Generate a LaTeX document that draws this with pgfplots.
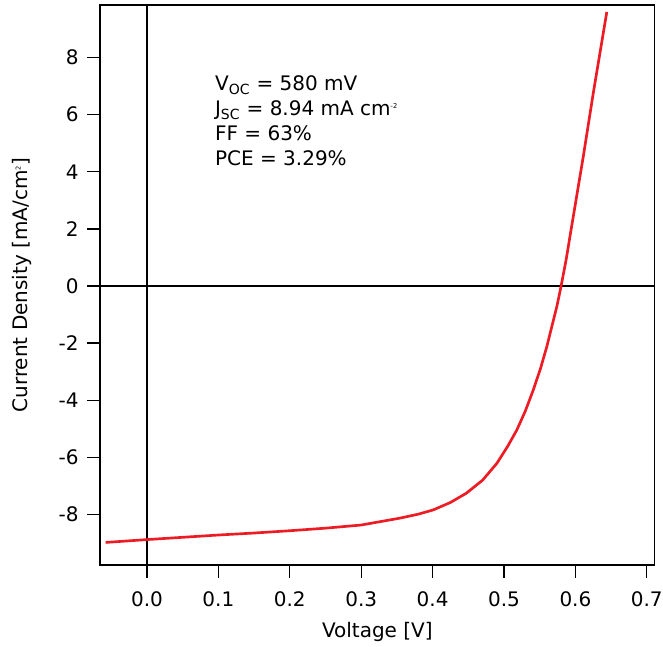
\documentclass[border=0pt]{standalone}
\usepackage{fontspec}
\setmainfont{DejaVu Sans}
\usepackage{pgfplots}
\pgfplotsset{compat=1.18}
\usetikzlibrary{calc}
\definecolor{jvred}{RGB}{237,28,36}
\begin{document}
\begin{tikzpicture}
\useasboundingbox (-75pt,-60.75pt) rectangle (422.25pt,423.75pt);
\begin{axis}[
  at={(0,0)}, anchor=south west,
  scale only axis,
  width=416pt, height=420pt,
  xmin=-0.0658, xmax=0.711,
  ymin=-9.77, ymax=9.84,
  xtick={0,0.1,...,0.7},
  ytick={-8,-6,...,8},
  xtick pos=bottom, ytick pos=left,
  tick align=outside,
  major tick length=9.5pt,
  every tick/.style={black, line width=1pt},
  axis line style={black, line width=1.1pt},
  /pgf/number format/assume math mode=true,
  xticklabel style={/pgf/number format/fixed, /pgf/number format/fixed zerofill, /pgf/number format/precision=1, yshift=-7pt},
  yticklabel style={xshift=-3pt},
  tick label style={font=\fontsize{15}{18}\selectfont, black},
  label style={font=\fontsize{15}{18}\selectfont, black},
  xlabel={Voltage [V]},
  ylabel={Current Density [mA/cm\textsuperscript{\tiny 2}]},
  xlabel style={at={($(axis description cs:0.5,0)+(0,-50pt)$)}, anchor=center},
  ylabel style={at={($(axis description cs:0,0.5)+(-58.5pt,0)$)}, anchor=center},
  clip=true,
]
\addplot[black, line width=1.1pt, forget plot] coordinates {(-0.0658,0) (0.711,0)};
\addplot[black, line width=1.1pt, forget plot] coordinates {(0,-9.77) (0,9.84)};
\addplot[jvred, line width=2pt] coordinates {
(-0.058,-8.98) (0,-8.88) (0.05,-8.80) (0.1,-8.72) (0.15,-8.65) (0.2,-8.57)
(0.25,-8.48) (0.3,-8.37) (0.354,-8.13) (0.38,-7.99) (0.401,-7.84) (0.425,-7.58)
(0.447,-7.26) (0.47,-6.80) (0.490,-6.21) (0.505,-5.62) (0.518,-5.04) (0.530,-4.37)
(0.541,-3.64) (0.551,-2.90) (0.560,-2.12) (0.567,-1.42) (0.574,-0.72) (0.580,0.0) (0.587,0.92)
(0.597,2.43) (0.611,4.53) (0.625,6.75) (0.644,9.60)
};
\node[anchor=north west, align=left, inner sep=0pt, font=\fontsize{15}{18.75}\selectfont]
  at (axis cs:0.095,7.38)
  {V\textsubscript{OC} = 580 mV\\
   J\textsubscript{SC} = 8.94 mA cm\textsuperscript{\tiny -2}\\
   FF = 63\%\\
   PCE = 3.29\%};
\end{axis}
\end{tikzpicture}
\end{document}
